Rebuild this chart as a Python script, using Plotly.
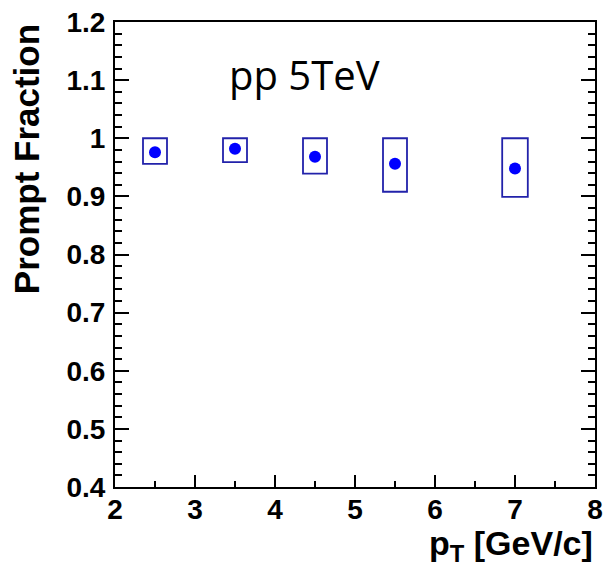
import plotly.graph_objects as go

pt = [2.5, 3.5, 4.5, 5.5, 7.0]
frac = [0.976, 0.982, 0.968, 0.956, 0.948]
sys_low = [0.956, 0.959, 0.939, 0.908, 0.899]
sys_high = [1.0, 1.0, 1.0, 1.0, 1.0]
box_halfwidth = [0.15, 0.15, 0.15, 0.15, 0.16]

y_ticks = [0.4, 0.5, 0.6, 0.7, 0.8, 0.9, 1.0, 1.1, 1.2]
y_ticktext = ["0.4", "0.5", "0.6", "0.7", "0.8", "0.9", "1", "1.1", "1.2"]
x_ticks = [2, 3, 4, 5, 6, 7, 8]

fig = go.Figure()

shapes = []
for xc, lo, hi, hw in zip(pt, sys_low, sys_high, box_halfwidth):
    shapes.append(dict(type="rect", xref="x", yref="y", x0=xc - hw, x1=xc + hw,
                       y0=lo, y1=hi, line=dict(color="#2222aa", width=1.8),
                       fillcolor="rgba(0,0,0,0)"))

fig.add_trace(go.Scatter(x=pt, y=frac, mode="markers",
                         marker=dict(color="#0000ff", size=12, symbol="circle"),
                         showlegend=False, cliponaxis=False))

tickfont = dict(family="Liberation Sans, Arial", size=28, color="black", weight="bold")

fig.update_layout(
    width=605, height=572,
    margin=dict(l=115, r=10, t=22, b=85),
    paper_bgcolor="white", plot_bgcolor="white",
    shapes=shapes,
    xaxis=dict(range=[2, 8], tickvals=x_ticks, ticks="inside", ticklen=12,
               tickwidth=1.5, tickcolor="black", showline=True, linecolor="black",
               linewidth=2, mirror=True, showgrid=False, zeroline=False,
               tickfont=tickfont, ticklabelstandoff=-4, automargin=False,
               minor=dict(dtick=0.5, ticks="inside", ticklen=6, tickwidth=1.5,
                          tickcolor="black", showgrid=False)),
    yaxis=dict(range=[0.4, 1.2], tickvals=y_ticks, ticktext=y_ticktext,
               ticks="inside", ticklen=14, tickwidth=1.5, tickcolor="black",
               showline=True, linecolor="black", linewidth=2, mirror="ticks",
               showgrid=False, zeroline=False, tickfont=tickfont, automargin=False,
               ticklabelstandoff=2,
               minor=dict(dtick=0.02, ticks="inside", ticklen=7, tickwidth=1.5,
                          tickcolor="black", showgrid=False)),
    annotations=[
        dict(text="pp 5TeV", xref="x", yref="y", x=3.4, y=1.11, xanchor="left",
             yanchor="middle", showarrow=False,
             font=dict(family="Open Sans", size=40, color="black")),
        dict(text="<b>Prompt Fraction</b>", xref="paper", yref="paper",
             x=-0.185, y=1.0, xanchor="center", yanchor="top", textangle=-90,
             showarrow=False,
             font=dict(family="Liberation Sans, Arial", size=35, color="black")),
        dict(text="<b>p<sub>T</sub> [GeV/c]</b>", xref="paper", yref="paper",
             x=1.0, y=-0.075, xanchor="right", yanchor="top", showarrow=False,
             font=dict(family="Liberation Sans, Arial", size=34, color="black")),
    ],
)

fig.write_html("out.html")
